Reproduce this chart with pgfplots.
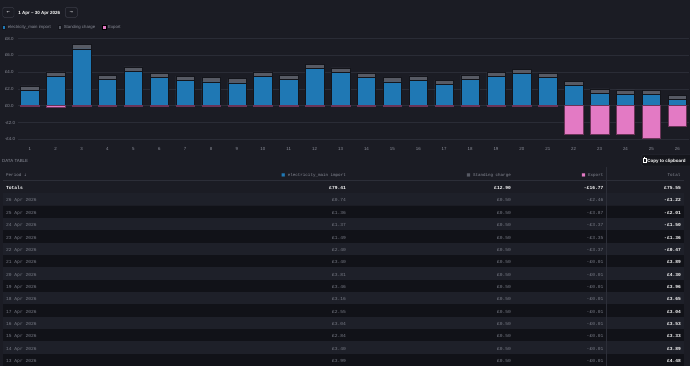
\documentclass[border=0pt]{standalone}
\usepackage{pgfplots}
\pgfplotsset{compat=1.18}
\usepackage{fontspec}
\setmainfont{Liberation Sans}
\newfontfamily\monofont{Liberation Mono}
\newfontfamily\symfont{DejaVu Sans}
\definecolor{bg}{HTML}{1B1C24}
\definecolor{gridc}{HTML}{2A2C36}
\definecolor{txt}{HTML}{8A8D98}
\definecolor{dimtxt}{HTML}{7A7D88}
\definecolor{imp}{HTML}{1F78B4}
\definecolor{stand}{HTML}{575A64}
\definecolor{expo}{HTML}{E37AC4}
\definecolor{expoedge}{HTML}{6A3458}
\definecolor{baredge}{HTML}{14151B}
\definecolor{rowdark}{HTML}{111218}
\definecolor{rowlight}{HTML}{1E2029}
\definecolor{sepc}{HTML}{2C2E38}
\definecolor{navb}{HTML}{3A3C47}
\definecolor{btnbg}{HTML}{15161C}
\pgfplotsset{sqlegend/.style={legend image code/.code={\fill[##1] (0pt,-1.8pt) rectangle (3.6pt,1.8pt);}}}
\newcommand\tabf{\monofont\fontsize{4.6}{5}\selectfont}
\newcommand\hdrf{\monofont\fontsize{4.2}{5}\selectfont}
\newcommand\uif{\fontsize{4.4}{5}\selectfont}
\begin{document}
\begin{tikzpicture}
\begin{scope}[x=1pt,y=1pt]
\fill[bg] (-1,1) rectangle (691,-366);
% navigation
\draw[navb, line width=0.4pt, rounded corners=1.5pt] (2.7,-7.3) rectangle (14,-17.3);
\node[text=white, font=\symfont\fontsize{4}{5}\selectfont, inner sep=0] at (8.35,-12.3) {←};
\node[text=white, font=\bfseries\fontsize{4.5}{5}\selectfont, inner sep=0, anchor=mid west] at (18.2,-12.3) {1 Apr – 30 Apr 2026};
\draw[navb, line width=0.4pt, rounded corners=1.5pt] (65.3,-7.3) rectangle (77.3,-17.3);
\node[text=white, font=\symfont\fontsize{4}{5}\selectfont, inner sep=0] at (71.3,-12.3) {→};
% data table label
\node[text=txt, font=\uif, anchor=mid west, inner sep=0] at (2,-160.3) {DATA TABLE};
% copy button
\draw[sepc, fill=btnbg, rounded corners=2pt, line width=0.4pt] (641.5,-154.5) rectangle (693,-166);
\draw[white, line width=0.35pt] (643.3,-157.8) rectangle (645.9,-162);
\fill[white] (643.9,-157.2) rectangle (645.3,-158.3);
\node[text=white, font=\bfseries\fontsize{4.5}{5}\selectfont, anchor=mid west, inner sep=0] at (647.2,-160.3) {Copy to clipboard};
% row bands
\foreach \yy/\cc in {186.9/bg,199.3/rowlight,211.7/rowdark,224.0/rowlight,236.4/rowdark,248.7/rowlight,261.1/rowdark,273.5/rowlight,285.8/rowdark,298.2/rowlight,310.5/rowdark,322.9/rowlight,335.3/rowdark,347.6/rowlight,360.0/rowdark}{
  \fill[\cc] (3,-\yy+6.18) rectangle (684,-\yy-6.18);
}
\draw[sepc, line width=0.5pt] (3,-180.7) -- (684,-180.7);
\draw[sepc, line width=0.5pt] (606,-167) -- (606,-366);
% header
\node[text=txt, font=\hdrf, anchor=mid west, inner sep=0] at (6,-173.7) {Period {\symfont\fontsize{3.6}{4}\selectfont↓}};
\node[text=txt, font=\hdrf, anchor=mid east, inner sep=0] at (346,-173.7) {{\symfont\textcolor{imp}{■}} electricity\_main import};
\node[text=txt, font=\hdrf, anchor=mid east, inner sep=0] at (511,-173.7) {{\symfont\textcolor{stand}{■}} Standing charge};
\node[text=txt, font=\hdrf, anchor=mid east, inner sep=0] at (603.5,-173.7) {{\symfont\textcolor{expo}{■}} Export};
\node[text=txt, font=\hdrf, anchor=mid east, inner sep=0] at (680.5,-173.7) {Total};
% totals
\node[text=white, font=\tabf\bfseries, anchor=mid west, inner sep=0] at (6,-186.9) {Totals};
\node[text=white, font=\tabf\bfseries, anchor=mid east, inner sep=0] at (346,-186.9) {£79.41};
\node[text=white, font=\tabf\bfseries, anchor=mid east, inner sep=0] at (511,-186.9) {£12.90};
\node[text=white, font=\tabf\bfseries, anchor=mid east, inner sep=0] at (603.5,-186.9) {-£16.77};
\node[text=white, font=\tabf\bfseries, anchor=mid east, inner sep=0] at (681,-186.9) {£75.55};
% rows
\foreach \yy/\dd/\ii/\ss/\ee/\tot in {
199.3/26 Apr 2026/£0.74/£0.50/-£2.46/-£1.22,
211.7/25 Apr 2026/£1.36/£0.50/-£3.87/-£2.01,
224.0/24 Apr 2026/£1.37/£0.50/-£3.37/-£1.50,
236.4/23 Apr 2026/£1.49/£0.50/-£3.35/-£1.36,
248.7/22 Apr 2026/£2.40/£0.50/-£3.37/-£0.47,
261.1/21 Apr 2026/£3.40/£0.50/-£0.01/£3.89,
273.5/20 Apr 2026/£3.81/£0.50/-£0.01/£4.30,
285.8/19 Apr 2026/£3.46/£0.50/-£0.01/£3.96,
298.2/18 Apr 2026/£3.16/£0.50/-£0.01/£3.65,
310.5/17 Apr 2026/£2.55/£0.50/-£0.01/£3.04,
322.9/16 Apr 2026/£3.04/£0.50/-£0.01/£3.53,
335.3/15 Apr 2026/£2.84/£0.50/-£0.01/£3.33,
347.6/14 Apr 2026/£3.40/£0.50/-£0.01/£3.89,
360.0/13 Apr 2026/£3.99/£0.50/-£0.01/£4.48}{
  \node[text=dimtxt, font=\tabf, anchor=mid west, inner sep=0] at (6,-\yy) {\dd};
  \node[text=dimtxt, font=\tabf, anchor=mid east, inner sep=0] at (346,-\yy) {\ii};
  \node[text=dimtxt, font=\tabf, anchor=mid east, inner sep=0] at (511,-\yy) {\ss};
  \node[text=dimtxt, font=\tabf, anchor=mid east, inner sep=0] at (603.5,-\yy) {\ee};
  \node[text=white, font=\tabf\bfseries, anchor=mid east, inner sep=0] at (681,-\yy) {\tot};
}
\end{scope}
\begin{axis}[
 at={(18.1pt,-143.5pt)}, anchor=south west,
 scale only axis, width=670.8pt, height=105pt,
 xmin=0.55, xmax=26.45, ymin=-4.5, ymax=8,
 axis line style={draw=none}, tick style={draw=none},
 ytick={-4,-2,0,2,4,6,8},
 yticklabels={-£4.0,-£2.0,£0.0,£2.0,£4.0,£6.0,£8.0},
 xtick={1,...,26},
 /pgf/number format/assume math mode=true,
 ymajorgrids, grid style={gridc, line width=0.5pt},
 tick label style={font=\fontsize{4.4}{5}\selectfont, text=txt},
 yticklabel style={anchor=west, xshift=-16.6pt},
 ybar stacked, bar width=0.71,
 legend style={at={(axis description cs:-0.0245,1.1067)}, anchor=west, draw=none, fill=none, inner sep=0pt, font=\fontsize{4.3}{5}\selectfont, text=txt, legend columns=3, /tikz/every even column/.append style={column sep=5pt}},
]
\addplot[fill=imp, draw=baredge, line width=0.5pt, sqlegend] coordinates {
(1,1.85) (2,3.52) (3,6.78) (4,3.13) (5,4.11) (6,3.36) (7,3.01) (8,2.85) (9,2.73) (10,3.52) (11,3.16) (12,4.43) (13,3.99) (14,3.40) (15,2.84) (16,3.04) (17,2.55) (18,3.16) (19,3.46) (20,3.81) (21,3.40) (22,2.40) (23,1.49) (24,1.37) (25,1.36) (26,0.74)};
\addplot[fill=stand, draw=baredge, line width=0.5pt, sqlegend] coordinates {
(1,0.5) (2,0.5) (3,0.5) (4,0.5) (5,0.5) (6,0.5) (7,0.5) (8,0.5) (9,0.5) (10,0.5) (11,0.5) (12,0.5) (13,0.5) (14,0.5) (15,0.5) (16,0.5) (17,0.5) (18,0.5) (19,0.5) (20,0.5) (21,0.5) (22,0.5) (23,0.5) (24,0.5) (25,0.5) (26,0.5)};
\addlegendimage{sqlegend, fill=expo}
\legend{electricity\_main import, Standing charge, Export}
\end{axis}
\begin{axis}[
 at={(18.1pt,-143.5pt)}, anchor=south west,
 scale only axis, width=670.8pt, height=105pt,
 xmin=0.55, xmax=26.45, ymin=-4.5, ymax=8,
 hide axis, ybar stacked, bar width=0.71,
]
\addplot[fill=expo, draw=expoedge, line width=0.5pt] coordinates {
(1,-0.01) (2,-0.18) (3,-0.01) (4,-0.01) (5,-0.01) (6,-0.01) (7,-0.01) (8,-0.01) (9,-0.01) (10,-0.01) (11,-0.01) (12,-0.01) (13,-0.01) (14,-0.01) (15,-0.01) (16,-0.01) (17,-0.01) (18,-0.01) (19,-0.01) (20,-0.01) (21,-0.01) (22,-3.37) (23,-3.35) (24,-3.37) (25,-3.87) (26,-2.46)};
\end{axis}
\pgfresetboundingbox
\path (0pt,0pt) rectangle (690pt,-365pt);
\end{tikzpicture}
\end{document}
